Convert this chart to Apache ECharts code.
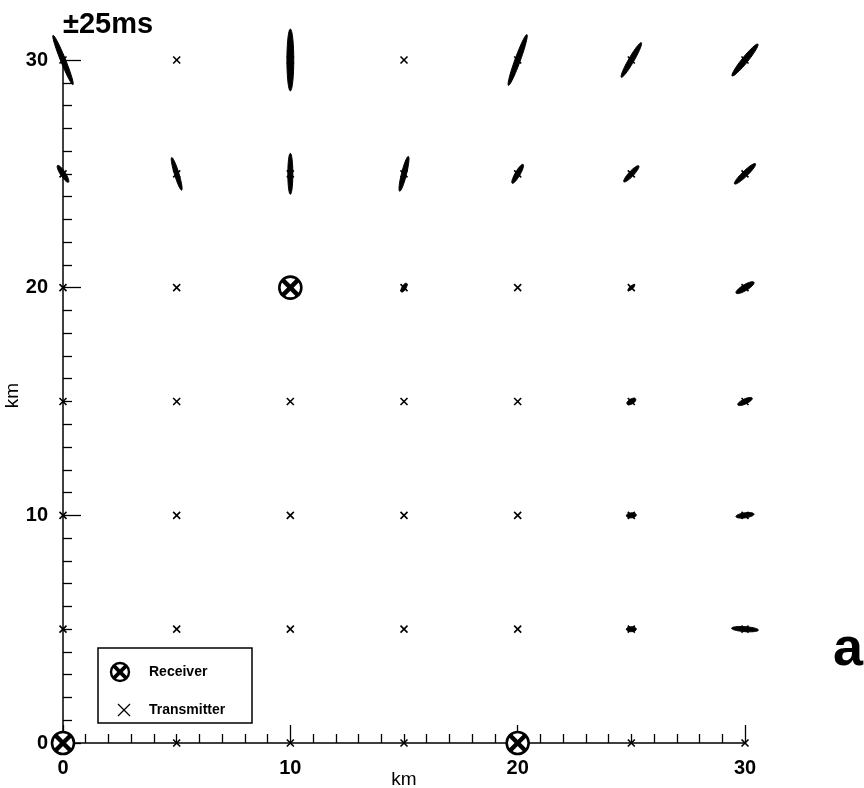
<!DOCTYPE html>
<html><head><meta charset="utf-8">
<script src="https://cdn.jsdelivr.net/npm/echarts@6/dist/echarts.min.js"></script>
<style>html,body{margin:0;padding:0;background:#fff}#c{width:864px;height:788px}</style>
</head><body><div id="c"></div>
<script>
// ---- data ----
const xTickValues = [0, 10, 20, 30];
const yTickValues = [0, 10, 20, 30];
const receivers = [[0, 0], [10, 20], [20, 0]];
const transmitters = [
  [5, 0], [10, 0], [15, 0], [25, 0], [30, 0],
  [0, 5], [5, 5], [10, 5], [15, 5], [20, 5], [25, 5], [30, 5],
  [0, 10], [5, 10], [10, 10], [15, 10], [20, 10], [25, 10], [30, 10],
  [0, 15], [5, 15], [10, 15], [15, 15], [20, 15], [25, 15], [30, 15],
  [0, 20], [5, 20], [15, 20], [20, 20], [25, 20], [30, 20],
  [0, 25], [5, 25], [10, 25], [15, 25], [20, 25], [25, 25], [30, 25],
  [0, 30], [5, 30], [10, 30], [15, 30], [20, 30], [25, 30], [30, 30]
];
// error ellipses: [x km, y km, semi-major km, semi-minor km, orientation deg]
const ellipses = [
  [0, 30, 1.17, 0.11, 112], [0, 25, 0.44, 0.11, 123],
  [5, 25, 0.75, 0.10, 107],
  [10, 30, 1.36, 0.15, 90], [10, 25, 0.90, 0.11, 90],
  [15, 25, 0.79, 0.11, 76], [15, 20, 0.22, 0.09, 60],
  [20, 30, 1.19, 0.12, 70], [20, 25, 0.48, 0.11, 60],
  [25, 30, 0.88, 0.12, 60], [25, 25, 0.48, 0.11, 47], [25, 20, 0.18, 0.07, 40],
  [25, 15, 0.22, 0.11, 30], [25, 10, 0.22, 0.11, 5], [25, 5, 0.22, 0.11, 0],
  [30, 30, 0.90, 0.13, 51], [30, 25, 0.64, 0.12, 44], [30, 20, 0.46, 0.13, 31],
  [30, 15, 0.35, 0.11, 25], [30, 10, 0.40, 0.11, 8], [30, 5, 0.59, 0.11, -4]
];
const scaleText = '±25ms';
const panelLabel = 'a';
const legendNames = ['Receiver', 'Transmitter'];

// ---- chart ----
const FONT = 'Liberation Sans';
const chart = echarts.init(document.getElementById('c'), null, {renderer: 'canvas'});

function ellipseItem(params, api) {
  const c = api.coord([api.value(0), api.value(1)]);
  const s = api.size([1, 1]);
  const a = api.value(2) * s[0], b = api.value(3) * s[1];
  const th = api.value(4) * Math.PI / 180;
  const ux = Math.cos(th), uy = -Math.sin(th);
  const vx = Math.sin(th), vy = Math.cos(th);
  const pts = [];
  for (let i = 0; i < 48; i++) {
    const t = i / 48 * Math.PI * 2;
    const ca = a * Math.cos(t), sb = b * Math.sin(t);
    pts.push([c[0] + ca * ux + sb * vx, c[1] + ca * uy + sb * vy]);
  }
  return {type: 'polygon', shape: {points: pts}, style: {fill: '#000', stroke: '#000', lineWidth: 1}};
}
function crossItem(params, api) {
  const c = api.coord([api.value(0), api.value(1)]);
  const h = 3.5;
  return {type: 'group', children: [
    {type: 'line', shape: {x1: c[0] - h, y1: c[1] - h, x2: c[0] + h, y2: c[1] + h}, style: {stroke: '#000', lineWidth: 1.6}},
    {type: 'line', shape: {x1: c[0] - h, y1: c[1] + h, x2: c[0] + h, y2: c[1] - h}, style: {stroke: '#000', lineWidth: 1.6}}
  ]};
}
function receiverShape(cx, cy, r, lw, xw, z) {
  const h = r * 0.68;
  const extra = z != null ? {z: z} : {};
  return [
    Object.assign({type: 'circle', shape: {cx: cx, cy: cy, r: r}, style: {fill: '#fff', stroke: '#000', lineWidth: lw}}, extra),
    Object.assign({type: 'line', shape: {x1: cx - h, y1: cy - h, x2: cx + h, y2: cy + h}, style: {stroke: '#000', lineWidth: xw}}, extra),
    Object.assign({type: 'line', shape: {x1: cx - h, y1: cy + h, x2: cx + h, y2: cy - h}, style: {stroke: '#000', lineWidth: xw}}, extra)
  ];
}
function receiverItem(params, api) {
  const c = api.coord([api.value(0), api.value(1)]);
  return {type: 'group', children: receiverShape(c[0], c[1], 11, 2.6, 4.5)};
}

const axisCommon = {
  type: 'value', min: 0, max: 30, interval: 10,
  nameLocation: 'middle',
  nameMoveOverlap: false,
  nameTextStyle: {fontSize: 19, color: '#000', fontFamily: FONT},
  axisLine: {lineStyle: {color: '#000', width: 1.5}},
  axisTick: {inside: true, length: 18, lineStyle: {color: '#000', width: 1.3}},
  minorTick: {show: true, splitNumber: 10, length: 9, lineStyle: {color: '#000', width: 1.3}},
  splitLine: {show: false},
  minorSplitLine: {show: false}
};

chart.setOption({
  animation: false,
  backgroundColor: '#fff',
  grid: {left: 63, right: 119, top: 60, bottom: 45, containLabel: false, outerBoundsMode: 'none'},
  xAxis: Object.assign({}, axisCommon, {
    name: 'km', nameGap: 27,
    axisLabel: {fontSize: 20, fontWeight: 'bold', color: '#000', margin: 15, fontFamily: FONT,
      formatter: v => xTickValues.indexOf(v) >= 0 ? String(v) : ''}
  }),
  yAxis: Object.assign({}, axisCommon, {
    name: 'km', nameGap: 41, nameRotate: 90,
    nameTextStyle: {fontSize: 19, color: '#000', fontFamily: FONT, padding: [0, 0, 0, 12]},
    axisLabel: {fontSize: 20, fontWeight: 'bold', color: '#000', margin: 15, fontFamily: FONT,
      formatter: v => yTickValues.indexOf(v) >= 0 ? String(v) : ''}
  }),
  series: [
    {type: 'custom', name: 'ellipses', renderItem: ellipseItem, data: ellipses, clip: false, z: 2,
      encode: {x: 0, y: 1}},
    {type: 'custom', name: legendNames[1], renderItem: crossItem, data: transmitters, clip: false, z: 3,
      encode: {x: 0, y: 1}},
    {type: 'custom', name: legendNames[0], renderItem: receiverItem, data: receivers, clip: false, z: 4,
      encode: {x: 0, y: 1}}
  ],
  graphic: [
    {type: 'text', left: 63, top: 10, style: {text: scaleText, font: 'bold 29px "Liberation Sans"', fill: '#000'}},
    {type: 'text', x: 848, y: 650, style: {text: panelLabel, font: 'bold 54px "Liberation Sans"', fill: '#000', align: 'center', verticalAlign: 'middle'}},
    {type: 'rect', shape: {x: 98, y: 648, width: 154, height: 75}, style: {fill: '#fff', stroke: '#000', lineWidth: 1.5}, z: 10},
    {type: 'group', z: 11, children: receiverShape(120, 672, 9, 2.4, 3.8, 11)},
    {type: 'line', z: 11, shape: {x1: 118, y1: 704, x2: 130, y2: 716}, style: {stroke: '#000', lineWidth: 1.3}},
    {type: 'line', z: 11, shape: {x1: 118, y1: 716, x2: 130, y2: 704}, style: {stroke: '#000', lineWidth: 1.3}},
    {type: 'text', z: 11, x: 149, y: 672, style: {text: legendNames[0], font: 'bold 14px "Liberation Sans"', fill: '#000', verticalAlign: 'middle'}},
    {type: 'text', z: 11, x: 149, y: 710, style: {text: legendNames[1], font: 'bold 14px "Liberation Sans"', fill: '#000', verticalAlign: 'middle'}}
  ]
});
</script>
</body></html>
